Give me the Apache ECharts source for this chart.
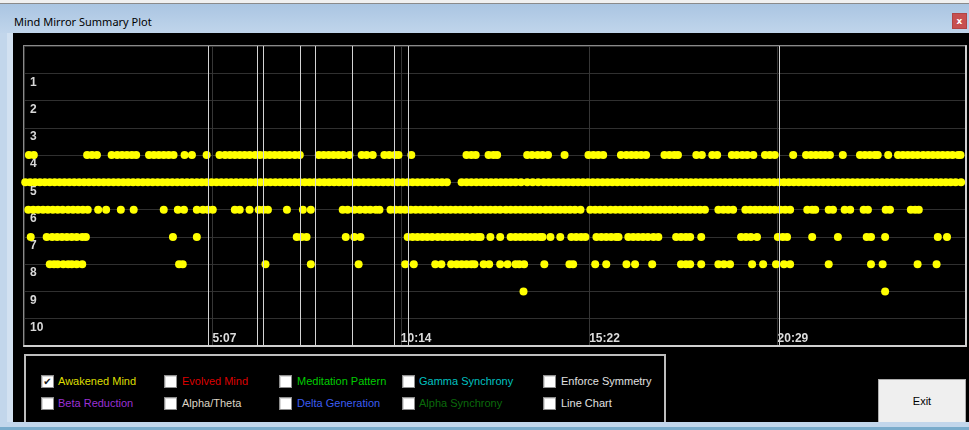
<!DOCTYPE html>
<html>
<head>
<meta charset="utf-8">
<title>Mind Mirror Summary Plot</title>
<script src="https://cdn.jsdelivr.net/npm/echarts@6/dist/echarts.min.js"></script>
<style>
body { margin: 0; width: 969px; height: 430px; overflow: hidden; position: relative; background: #c2d6eb; font-family: "Liberation Sans", Arial, sans-serif; }
#topEdge { position: absolute; left: 0; top: 0; width: 969px; height: 3px; background: #f0f0f0; border-bottom: 1px solid #8a8a8a; }
#titleBar { position: absolute; left: 0; top: 4px; width: 969px; height: 29px; background: linear-gradient(#aac5e2, #c0d5eb); }
#titleText { position: absolute; left: 14px; top: 14px; font-family: "Noto Sans", sans-serif; font-size: 11px; line-height: 16px; color: #000; }
#closeBtn { position: absolute; left: 952px; top: 13px; width: 15px; height: 16px; box-sizing: border-box; background: #c75050; border: 1px solid #b04444; color: #fff; font: bold 9px/14px "DejaVu Sans", sans-serif; text-align: center; }
#leftStripe { position: absolute; left: 7px; top: 33px; width: 6px; height: 389px; background: #d2e1f1; }
#bottomEdge { position: absolute; left: 0; top: 427px; width: 969px; height: 3px; background: #79abcb; }
#Chart { position: absolute; left: 13px; top: 33px; width: 956px; height: 389px; background: #000; }
#panel { position: absolute; left: 24px; top: 354px; width: 642px; height: 68px; box-sizing: border-box; border: 2px solid #bdbdbd; border-bottom: none; background: #000; }
.cb { position: absolute; width: 13px; height: 13px; box-sizing: border-box; background: #fff; border: 1px solid #8e8e8e; box-shadow: inset 1px 1px 0 #d8d8d8; color: #1a1a1a; font: 10px/11px "DejaVu Sans", sans-serif; text-align: center; }
.lbl { position: absolute; font-size: 11px; line-height: 13px; white-space: nowrap; }
#exitBtn { position: absolute; left: 878px; top: 379px; width: 88px; height: 43px; box-sizing: border-box; background: #efefef; border: 1px solid #adadad; border-bottom: none; display: flex; align-items: center; justify-content: center; font-size: 11px; color: #000; }
</style>
</head>
<body>
<div id="topEdge"></div>
<div id="titleBar"></div>
<div id="titleText">Mind Mirror Summary Plot</div>
<div id="closeBtn">x</div>
<div id="leftStripe"></div>
<div id="bottomEdge"></div>
<div id="Chart"></div>
<div id="panel"></div>

<div class="cb" style="left:41px;top:375px">✔</div>
<div class="lbl" style="left:58px;top:375px;color:#dede00">Awakened Mind</div>
<div class="cb" style="left:164px;top:375px"></div>
<div class="lbl" style="left:182px;top:375px;color:#dd0000">Evolved Mind</div>
<div class="cb" style="left:279px;top:375px"></div>
<div class="lbl" style="left:297px;top:375px;color:#00cc00">Meditation Pattern</div>
<div class="cb" style="left:402px;top:375px"></div>
<div class="lbl" style="left:419px;top:375px;color:#00c0c0">Gamma Synchrony</div>
<div class="cb" style="left:543px;top:375px"></div>
<div class="lbl" style="left:561px;top:375px;color:#e0e0e0">Enforce Symmetry</div>

<div class="cb" style="left:41px;top:397px"></div>
<div class="lbl" style="left:58px;top:397px;color:#9b30d4">Beta Reduction</div>
<div class="cb" style="left:164px;top:397px"></div>
<div class="lbl" style="left:182px;top:397px;color:#ddd5c5">Alpha/Theta</div>
<div class="cb" style="left:279px;top:397px"></div>
<div class="lbl" style="left:297px;top:397px;color:#3c5cf0">Delta Generation</div>
<div class="cb" style="left:402px;top:397px"></div>
<div class="lbl" style="left:419px;top:397px;color:#0b6a0b">Alpha Synchrony</div>
<div class="cb" style="left:543px;top:397px"></div>
<div class="lbl" style="left:561px;top:397px;color:#e0e0e0">Line Chart</div>

<div id="exitBtn">Exit</div>

<script>
// session length in seconds, and the labels of the 5 equal time ticks
var sessionSeconds = 1537;
var timeLabels = ['5:07', '10:14', '15:22', '20:29'];
var rowLabels = ['1', '2', '3', '4', '5', '6', '7', '8', '9', '10'];

// event markers (seconds)
var eventTimes = [301, 380, 390, 450, 476, 536, 604, 627, 1232];

// times (seconds) at which each pattern row was flagged
var row4Times = [8, 16, 103, 111, 119, 143, 152, 160, 168, 176, 183, 204, 212, 220, 228, 236, 244, 262, 274, 298,
    319, 328, 336, 344, 352, 360, 368, 377, 385, 393, 401, 409, 417, 425, 433, 442, 450, 481, 489, 497, 505, 513, 521,
    531, 551, 559, 569, 588, 596, 605, 611, 632, 722, 730, 737, 758, 766, 772, 821, 829, 838, 846, 855, 882, 921, 929,
    937, 945, 974, 983, 991, 999, 1007, 1015, 1045, 1053, 1061, 1067, 1097, 1106, 1123, 1131, 1155, 1163, 1172, 1180,
    1190, 1209, 1217, 1225, 1255, 1276, 1284, 1292, 1300, 1307, 1315, 1336, 1364, 1372, 1380, 1388, 1393, 1410, 1426,
    1434, 1442, 1450, 1458, 1467, 1475, 1483, 1491, 1499, 1507, 1515, 1524, 1528];

var row5Times = [2, 10, 18, 26, 34, 42, 50, 58, 66, 74, 82, 90, 98, 106, 114, 122, 130, 138, 146, 154, 162, 170, 178,
    186, 194, 202, 210, 218, 226, 234, 242, 250, 258, 266, 274, 282, 290, 298, 306, 314, 322, 330, 338, 346, 354, 362,
    370, 378, 386, 394, 402, 410, 418, 426, 434, 442, 450, 458, 466, 474, 482, 490, 498, 506, 514, 522, 530, 538, 546,
    554, 562, 570, 578, 586, 594, 602, 610, 618, 626, 634, 642, 650, 658, 666, 674, 682, 690, 714, 722, 730, 738, 746,
    754, 762, 770, 778, 786, 794, 802, 811, 821, 830, 839, 848, 856, 864, 872, 880, 888, 896, 904, 912, 920, 928, 936,
    944, 952, 960, 968, 976, 984, 992, 1000, 1008, 1016, 1024, 1032, 1040, 1048, 1056, 1064, 1072, 1080, 1088, 1096,
    1104, 1112, 1120, 1128, 1136, 1144, 1152, 1160, 1168, 1176, 1184, 1192, 1200, 1208, 1216, 1224, 1232, 1240, 1248,
    1256, 1264, 1272, 1280, 1288, 1296, 1304, 1312, 1320, 1328, 1336, 1344, 1352, 1360, 1368, 1376, 1384, 1392, 1400,
    1408, 1416, 1424, 1432, 1440, 1448, 1456, 1464, 1472, 1480, 1488, 1496, 1504, 1512, 1520, 1529];

var row6Times = [7, 15, 23, 31, 39, 47, 55, 63, 72, 80, 88, 96, 104, 121, 134, 158, 179, 228, 251, 261, 282, 292, 300,
    308, 344, 352, 368, 383, 391, 398, 429, 455, 468, 520, 528, 539, 548, 557, 565, 574, 580, 598, 606, 614, 622, 631,
    639, 647, 655, 663, 671, 680, 688, 696, 704, 712, 720, 728, 737, 745, 753, 761, 769, 777, 786, 794, 802, 810, 818,
    826, 834, 842, 851, 859, 867, 875, 883, 891, 899, 908, 924, 932, 940, 948, 957, 965, 973, 981, 989, 997, 1005, 1014,
    1022, 1030, 1038, 1046, 1054, 1062, 1071, 1079, 1087, 1095, 1103, 1111, 1133, 1141, 1149, 1157, 1177, 1185, 1193,
    1201, 1209, 1217, 1225, 1234, 1242, 1250, 1278, 1286, 1291, 1313, 1320, 1339, 1348, 1370, 1377, 1406, 1413, 1447,
    1454, 1460];

var row7Times = [11, 37, 46, 54, 62, 70, 78, 86, 95, 101, 243, 282, 445, 453, 461, 525, 539, 549, 626, 634, 642, 650,
    658, 666, 675, 683, 691, 699, 707, 715, 723, 732, 740, 745, 761, 777, 794, 802, 810, 818, 826, 834, 842, 846, 859,
    875, 893, 901, 909, 916, 934, 942, 950, 958, 966, 970, 986, 994, 1002, 1010, 1018, 1027, 1035, 1064, 1072, 1080,
    1087, 1105, 1170, 1178, 1186, 1196, 1230, 1238, 1245, 1286, 1328, 1375, 1382, 1405, 1491, 1506];

var row8Times = [42, 49, 55, 64, 72, 78, 86, 95, 253, 259, 394, 468, 546, 622, 636, 671, 681, 697, 706, 714, 722, 730,
    735, 750, 759, 777, 789, 802, 808, 816, 849, 890, 896, 932, 950, 983, 997, 1025, 1072, 1080, 1087, 1105, 1133, 1142,
    1152, 1188, 1206, 1227, 1240, 1250, 1313, 1382, 1401, 1458, 1489];

var row9Times = [815, 1405];

var rows = [[4, row4Times], [5, row5Times], [6, row6Times], [7, row7Times], [8, row8Times], [9, row9Times]];

var dots = [];
rows.forEach(function (r) {
    r[1].forEach(function (t) {
        dots.push([t, r[0]]);
    });
});

var Chart = echarts.init(document.getElementById('Chart'));

var tickStep = sessionSeconds / 5;
var labelFont = 'Liberation Sans';

var ChartOption = {
    backgroundColor: '#000',
    animation: false,
    grid: {
        left: 11, right: 3, top: 13, bottom: 76,
        show: true,
        backgroundColor: '#000',
        borderColor: '#8a8a8a',
        borderWidth: 2
    },
    xAxis: {
        type: 'value',
        min: 0,
        max: sessionSeconds,
        interval: tickStep,
        axisLine: { show: true, onZero: false, lineStyle: { color: '#cfcfcf', width: 2 } },
        axisTick: { show: false },
        splitLine: { show: true, lineStyle: { color: '#363636', width: 1 } },
        axisLabel: {
            inside: true,
            margin: 1,
            align: 'left',
            color: '#dcdcdc',
            fontWeight: 'bold',
            fontSize: 12,
            fontFamily: labelFont,
            showMinLabel: false,
            showMaxLabel: false,
            formatter: function (v) {
                var i = Math.round(v / tickStep);
                return timeLabels[i - 1] || '';
            }
        }
    },
    yAxis: [{
        type: 'value',
        min: 0,
        max: 11,
        interval: 1,
        inverse: true,
        axisLine: { show: false },
        axisTick: { show: false },
        splitLine: { show: true, lineStyle: { color: '#303030', width: 1 } },
        axisLabel: {
            inside: true,
            margin: 6,
            verticalAlign: 'top',
            padding: [3, 0, 0, 0],
            color: '#d8d8d8',
            fontWeight: 'bold',
            fontSize: 12,
            fontFamily: labelFont,
            formatter: function (v) {
                return rowLabels[v - 1] || '';
            }
        }
    }, {
        type: 'value',
        min: 0,
        max: 11,
        position: 'right',
        axisLine: { show: true, onZero: false, lineStyle: { color: '#cfcfcf', width: 2 } },
        axisTick: { show: false },
        axisLabel: { show: false },
        splitLine: { show: false }
    }],
    series: [{
        type: 'scatter',
        data: dots,
        symbol: 'circle',
        symbolSize: 8,
        itemStyle: { color: '#ffff00', opacity: 1 },
        z: 3
    }, {
        type: 'line',
        data: [],
        z: 5,
        markLine: {
            silent: true,
            symbol: 'none',
            label: { show: false },
            lineStyle: { color: '#d4d4d4', width: 1, type: 'solid', opacity: 1 },
            data: eventTimes.map(function (t) { return { xAxis: t }; })
        }
    }]
};

Chart.setOption(ChartOption);
</script>
</body>
</html>
